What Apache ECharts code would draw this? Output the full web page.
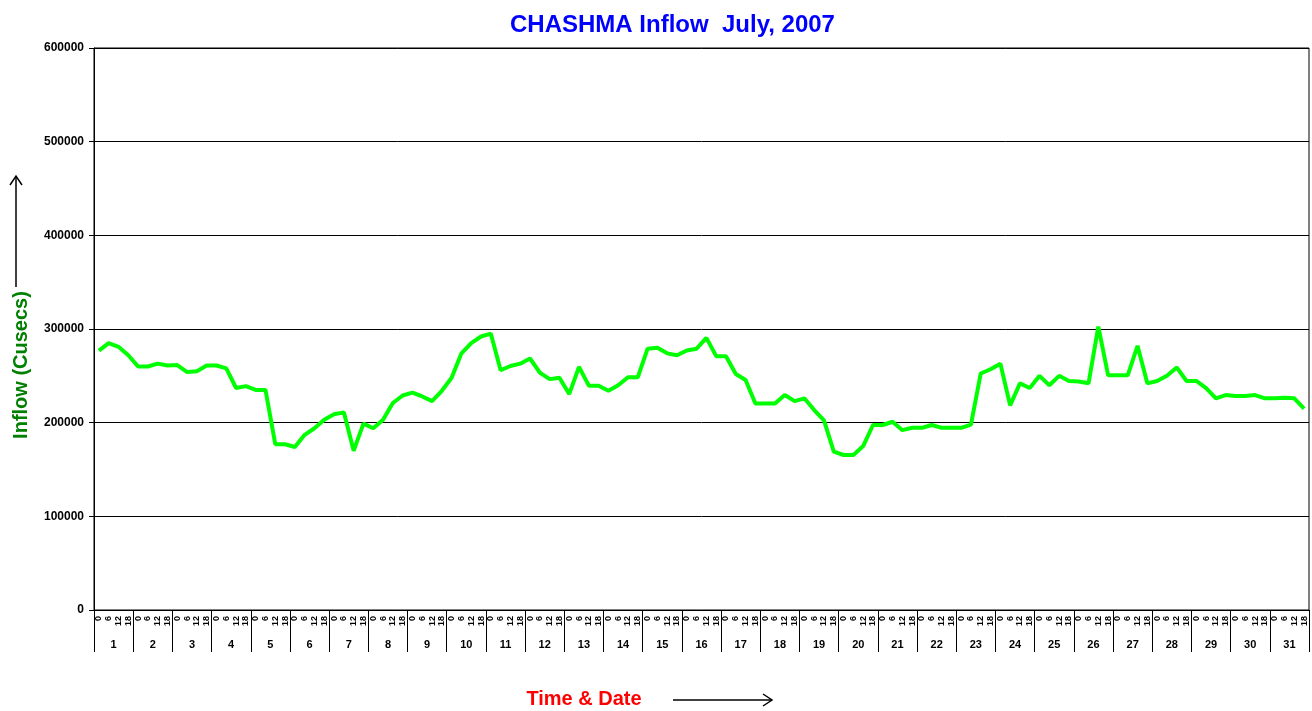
<!DOCTYPE html>
<html>
<head>
<meta charset="utf-8">
<title>CHASHMA Inflow July, 2007</title>
<script src="https://cdn.jsdelivr.net/npm/echarts@6/dist/echarts.min.js"></script>
<style>
    html,body{margin:0;padding:0;background:#fff;}
    #main{width:1312px;height:711px;}
</style>
</head>
<body>
<div id="main"></div>
<script>
//days of July and the 4 readings per day
let days = ['1','2','3','4','5','6','7','8','9','10','11','12','13','14','15','16',
    '17','18','19','20','21','22','23','24','25','26','27','28','29','30','31'];
let hours = ['0','6','12','18'];

//inflow in cusecs, one row per day (0,6,12,18 hrs)
let inflow = [
    277000, 285000, 281000, 272000,
    260000, 260000, 263000, 261000,
    261500, 254000, 255000, 261000,
    261000, 258000, 237000, 239000,
    235000, 235000, 177000, 177000,
    174000, 187000, 194000, 203000,
    209000, 211000, 170000, 199000,
    194000, 203000, 221000, 229000,
    232000, 228000, 223000, 234000,
    248000, 274000, 285000, 292000,
    295000, 256000, 260500, 263000,
    268500, 253500, 246500, 248000,
    230500, 259500, 239500, 239500,
    234000, 240000, 248500, 248500,
    279000, 280000, 274000, 272000,
    277000, 279000, 290500, 271000,
    271000, 252000, 245500, 220500,
    220500, 220500, 229500, 223000,
    226000, 213500, 202500, 169000,
    165500, 165500, 175000, 197500,
    197500, 201000, 192000, 194500,
    194500, 197500, 194500, 194500,
    194500, 198000, 252500, 257000,
    263000, 218500, 242000, 237000,
    250000, 240000, 250000, 244500,
    244000, 242000, 302500, 250500,
    250500, 250500, 282000, 242000,
    244500, 250000, 259000, 244500,
    244500, 237000, 226000, 229500,
    228500, 228500, 229500, 226000,
    226000, 226500, 226000, 215000
];

let font = 'Liberation Sans, Arial, sans-serif';

//one category per reading
let slots = [];
days.forEach(function (d) {
    hours.forEach(function (h) {
        slots.push(h);
    });
});

let chart = echarts.init(document.getElementById('main'));

let option = {
    animation: false,
    backgroundColor: '#fff',
    title: {
        text: 'CHASHMA Inflow  July, 2007',
        left: 505,
        top: 8,
        textStyle: {color: '#0000ff', fontSize: 24, fontWeight: 'bold', fontFamily: font}
    },
    grid: {
        left: 94, right: 3, top: 48, bottom: 101,
        show: true, borderColor: '#000', borderWidth: 1
    },
    xAxis: [{
        type: 'category',
        data: slots,
        position: 'bottom',
        axisLine: {lineStyle: {color: '#000', width: 1}},
        axisTick: {length: 4, interval: 0, lineStyle: {color: '#000'}},
        axisLabel: {
            interval: 0, rotate: 90, margin: 6,
            fontSize: 9, fontWeight: 'bold', color: '#000', fontFamily: font
        },
        splitLine: {show: false}
    }, {
        //day separators and day numbers
        type: 'category',
        data: days,
        position: 'bottom',
        axisLine: {show: true, lineStyle: {color: '#000', width: 1}},
        axisTick: {show: true, length: 42, interval: 0, lineStyle: {color: '#000', width: 1}},
        axisLabel: {
            interval: 0, margin: 29,
            fontSize: 11, fontWeight: 'bold', color: '#000', fontFamily: font
        },
        splitLine: {show: false}
    }],
    yAxis: {
        type: 'value',
        min: 0, max: 600000, interval: 100000,
        axisLine: {show: true, lineStyle: {color: '#000', width: 1}},
        axisTick: {show: true, length: 5, lineStyle: {color: '#000'}},
        axisLabel: {
            margin: 10, fontSize: 12, fontWeight: 'bold', color: '#000', fontFamily: font,
            formatter: function (v) { return String(v); }
        },
        splitLine: {lineStyle: {color: '#000', width: 1}}
    },
    series: [{
        name: 'Inflow',
        type: 'line',
        xAxisIndex: 0,
        data: inflow,
        showSymbol: false,
        lineStyle: {color: '#00ff00', width: 4},
        itemStyle: {color: '#00ff00'}
    }],
    graphic: [
        //axis names with their arrows
        {
            type: 'text', x: 21, y: 365, rotation: Math.PI / 2,
            style: {text: 'Inflow (Cusecs)', fill: '#008000', font: 'bold 20px ' + font,
                align: 'center', verticalAlign: 'middle'}
        },
        {type: 'line', shape: {x1: 16, y1: 287, x2: 16, y2: 176}, style: {stroke: '#000', lineWidth: 1.5}},
        {type: 'polyline', shape: {points: [[10, 185], [16, 176], [22, 185]]}, style: {stroke: '#000', lineWidth: 1.5, fill: null}},
        {
            type: 'text', x: 584, y: 699,
            style: {text: 'Time & Date', fill: '#ff0000', font: 'bold 20px ' + font,
                align: 'center', verticalAlign: 'middle'}
        },
        {type: 'line', shape: {x1: 673, y1: 700, x2: 772, y2: 700}, style: {stroke: '#000', lineWidth: 1.5}},
        {type: 'polyline', shape: {points: [[763, 694], [772, 700], [763, 706]]}, style: {stroke: '#000', lineWidth: 1.5, fill: null}}
    ]
};

chart.setOption(option);
</script>
</body>
</html>
